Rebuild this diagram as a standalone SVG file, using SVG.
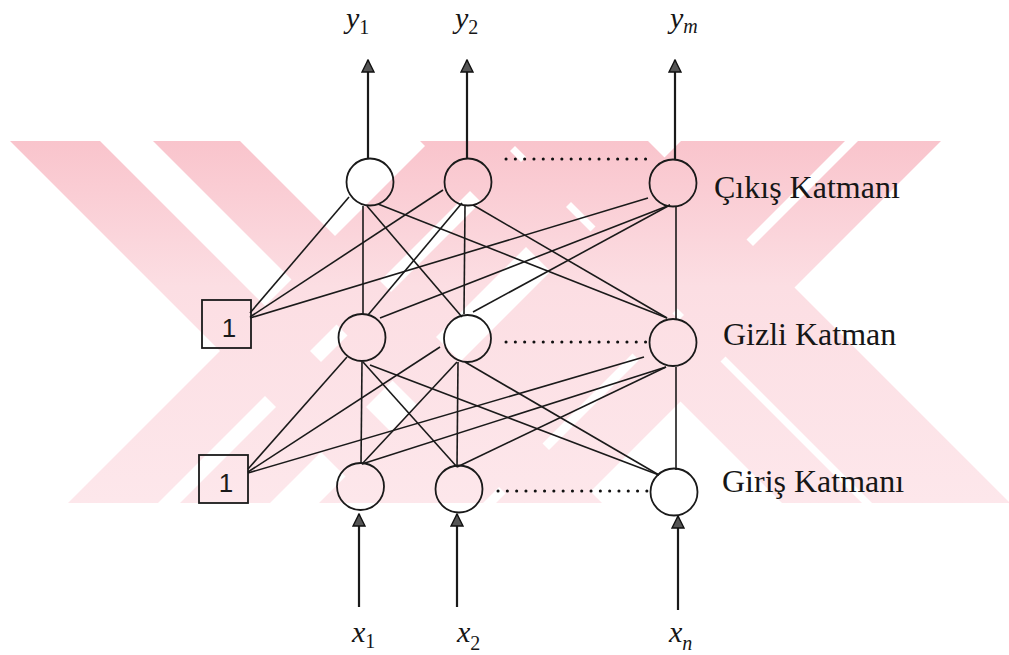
<svg xmlns="http://www.w3.org/2000/svg" width="1009" height="655" viewBox="0 0 1009 655">
  <defs>
    <style>
      .wm { fill: url(#wmfill); stroke: none; }
      .neuron { fill: none; stroke: #1a1a1a; stroke-width: 1.8; }
      .bias { fill: none; stroke: #1a1a1a; stroke-width: 1.8; }
      .link { stroke: #1a1a1a; stroke-width: 1.6; fill: none; }
      .io { stroke: #1a1a1a; stroke-width: 2.2; fill: none; marker-end: url(#head); }
      .dots { stroke: #111; stroke-width: 3; stroke-linecap: round; stroke-dasharray: 0.1 9.2; fill: none; }
      .layer { font-family: "Liberation Serif", "Times New Roman", serif; font-size: 32px; fill: #161616; }
      .var { font-family: "Liberation Serif", "Times New Roman", serif; font-size: 30px; font-style: italic; fill: #161616; }
      .sub { font-size: 20px; font-style: normal; }
      .subi { font-size: 20px; font-style: italic; }
      .one { font-family: "Liberation Sans", Arial, sans-serif; font-size: 26px; fill: #1a1a1a; text-anchor: middle; }
    </style>
    <linearGradient id="wmfill" gradientUnits="userSpaceOnUse" x1="0" y1="141" x2="0" y2="503">
      <stop offset="0" stop-color="#f9c4cc"/>
      <stop offset="0.4" stop-color="#fcdee3"/>
      <stop offset="1" stop-color="#fde7eb"/>
    </linearGradient>
    <marker id="head" viewBox="0 0 14 14" refX="13" refY="7" markerWidth="14" markerHeight="14" markerUnits="userSpaceOnUse" orient="auto">
      <path d="M1,1 L13,7 L1,13 Z" fill="#555" stroke="#111" stroke-width="1.4" stroke-linejoin="miter"/>
    </marker>
    <clipPath id="wmclip">
      <rect x="0" y="141" width="1009" height="362"/>
    </clipPath>
  </defs>

  <rect x="0" y="0" width="1009" height="655" fill="#ffffff"/>

  <!-- background watermark bands -->
  <g id="watermark" clip-path="url(#wmclip)">
    <polygon class="wm" points="10,141 100,141 462,503 372,503"/>
    <polygon class="wm" points="153,141 240,141 602,503 515,503"/>
    <polygon class="wm" points="420,141 500,141 862,503 782,503"/>
    <polygon class="wm" points="510,141 648,141 1010,503 872,503"/>
    <polygon class="wm" points="68,503 158,503 520,141 430,141"/>
    <polygon class="wm" points="180,503 270,503 632,141 542,141"/>
    <polygon class="wm" points="319,503 425,503 787,141 681,141"/>
    <polygon class="wm" points="413,503 483,503 845,141 775,141"/>
    <polygon class="wm" points="496,503 579,503 941,141 858,141"/>
  </g>

  <!-- weights, bias links, input/output arrows and ellipsis rows -->
  <g id="connectors">
    <!-- hidden -> output -->
    <line class="link" x1="363" y1="206" x2="363" y2="314"/>
    <line class="link" x1="367" y1="206" x2="462" y2="317"/>
    <line class="link" x1="378" y1="204" x2="667" y2="318"/>
    <line class="link" x1="462" y1="203" x2="368" y2="315"/>
    <line class="link" x1="465" y1="206" x2="464" y2="314"/>
    <line class="link" x1="473" y1="205" x2="667" y2="318"/>
    <line class="link" x1="670" y1="205" x2="380" y2="318"/>
    <line class="link" x1="670" y1="205" x2="473" y2="312"/>
    <line class="link" x1="676" y1="207" x2="676" y2="319"/>
    <!-- bias of output layer -->
    <line class="link" x1="250" y1="313" x2="349" y2="197"/>
    <line class="link" x1="250" y1="317" x2="443" y2="190"/>
    <line class="link" x1="250" y1="318" x2="648" y2="198"/>
    <!-- input -> hidden -->
    <line class="link" x1="362" y1="362" x2="361" y2="464"/>
    <line class="link" x1="363" y1="362" x2="457" y2="467"/>
    <line class="link" x1="370" y1="365" x2="659" y2="475"/>
    <line class="link" x1="457" y1="362" x2="362" y2="464"/>
    <line class="link" x1="458" y1="362" x2="457" y2="467"/>
    <line class="link" x1="465" y1="362" x2="659" y2="475"/>
    <line class="link" x1="666" y1="367" x2="362" y2="464"/>
    <line class="link" x1="666" y1="367" x2="457" y2="467"/>
    <line class="link" x1="676" y1="367" x2="676" y2="470"/>
    <!-- bias of hidden layer -->
    <line class="link" x1="248" y1="469" x2="347" y2="357"/>
    <line class="link" x1="248" y1="472" x2="440" y2="347"/>
    <line class="link" x1="248" y1="473" x2="644" y2="357"/>
    <!-- outputs -->
    <line class="io" x1="368" y1="158" x2="368" y2="60"/>
    <line class="io" x1="467" y1="158" x2="467" y2="60"/>
    <line class="io" x1="675" y1="159" x2="675" y2="60"/>
    <!-- inputs -->
    <line class="io" x1="359" y1="607" x2="359" y2="514"/>
    <line class="io" x1="457" y1="607" x2="457" y2="514"/>
    <line class="io" x1="678" y1="610" x2="678" y2="516"/>
    <!-- ellipsis rows -->
    <line class="dots" x1="506" y1="159" x2="646" y2="159"/>
    <line class="dots" x1="506" y1="342" x2="646" y2="342"/>
    <line class="dots" x1="498" y1="491" x2="648" y2="491"/>
  </g>

  <!-- output layer -->
  <g id="out1"><circle class="neuron" cx="370" cy="182" r="23.5"/></g>
  <g id="out2"><circle class="neuron" cx="468" cy="182" r="23.5"/></g>
  <g id="outm"><circle class="neuron" cx="673" cy="183" r="23.5"/></g>

  <!-- hidden layer -->
  <g id="hid1"><circle class="neuron" cx="362" cy="337.5" r="23.5"/></g>
  <g id="hid2"><circle class="neuron" cx="467.5" cy="338.5" r="23.5"/></g>
  <g id="hidm"><circle class="neuron" cx="673" cy="342.5" r="23.5"/></g>

  <!-- input layer -->
  <g id="in1"><circle class="neuron" cx="360.5" cy="486.5" r="23.5"/></g>
  <g id="in2"><circle class="neuron" cx="459" cy="489" r="23.5"/></g>
  <g id="inn"><circle class="neuron" cx="674" cy="492" r="23.5"/></g>

  <!-- bias units -->
  <g id="bias-hidden-out">
    <rect class="bias" x="202" y="300" width="49" height="48"/>
    <text class="one" x="229" y="337">1</text>
  </g>
  <g id="bias-in-hidden">
    <rect class="bias" x="199" y="455" width="49" height="48"/>
    <text class="one" x="226" y="492">1</text>
  </g>

  <!-- layer names -->
  <g id="label-output"><text class="layer" x="714" y="198">Çıkış Katmanı</text></g>
  <g id="label-hidden"><text class="layer" x="723" y="345">Gizli Katman</text></g>
  <g id="label-input"><text class="layer" x="722" y="492">Giriş Katmanı</text></g>

  <!-- output variables -->
  <g id="label-y1"><text class="var" x="346" y="28">y<tspan class="sub" dy="6">1</tspan></text></g>
  <g id="label-y2"><text class="var" x="455" y="28">y<tspan class="sub" dy="6">2</tspan></text></g>
  <g id="label-ym"><text class="var" x="670" y="28">y<tspan class="subi" dy="5">m</tspan></text></g>

  <!-- input variables -->
  <g id="label-x1"><text class="var" x="352" y="642">x<tspan class="sub" dy="6">1</tspan></text></g>
  <g id="label-x2"><text class="var" x="457" y="642">x<tspan class="sub" dy="8">2</tspan></text></g>
  <g id="label-xn"><text class="var" x="669" y="642">x<tspan class="subi" dy="8">n</tspan></text></g>
</svg>
